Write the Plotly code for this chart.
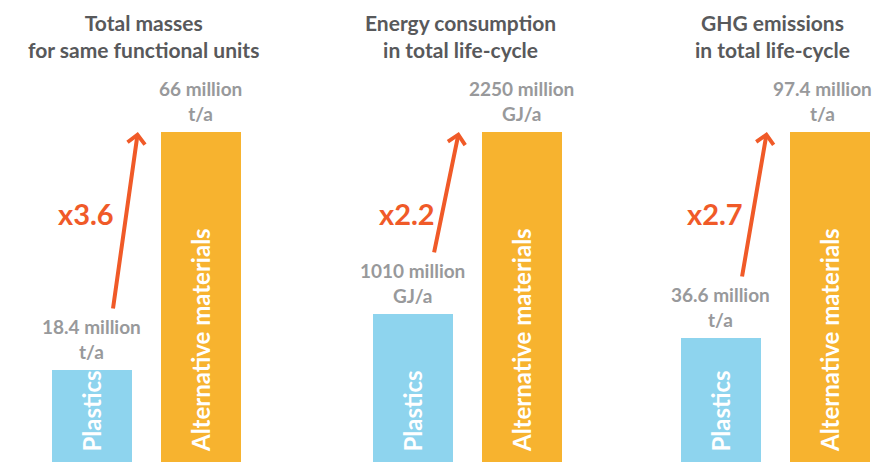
import plotly.graph_objects as go

# ---- data ----
title_line1 = ["Total masses", "Energy consumption", "GHG emissions"]
title_line2 = ["for same functional units", "in total life-cycle", "in total life-cycle"]
categories = ["Plastics", "Alternative materials"]
plastics = [18.4, 1010, 36.6]
alternatives = [66, 2250, 97.4]
units = ["t/a", "GJ/a", "t/a"]
factors = ["x3.6", "x2.2", "x2.7"]

# ---- style ----
OFF = 8                        # page body margin of the html page
W, H = 884 - OFF, 462 - OFF
BLUE = "#8ED4EE"
ORANGE = "#F7B32F"
RED = "#F05A28"
DARK = "#58595B"
GRAY = "#98999B"
FONT = "Lato"
centers = [91 - OFF, 412 - OFF, 720 - OFF]   # pixel centre of the plastics bar per panel
title_x = [143 - OFF, 460 - OFF, 772 - OFF]
unit_px = 109                                # pixel distance between the two bars
top_frac = 330 / H                           # alt bar height as fraction of plot height

fig = go.Figure()
annotations = []
for i in range(3):
    ax_id = "" if i == 0 else str(i + 1)
    xa, ya = "x" + ax_id, "y" + ax_id
    left = (centers[i] - unit_px / 2) / W
    right = (centers[i] + unit_px * 1.5) / W
    ymax = alternatives[i] / top_frac
    fig.add_trace(go.Bar(
        x=[0, 1], y=[plastics[i], alternatives[i]],
        marker=dict(color=[BLUE, ORANGE], line=dict(width=0)),
        width=80 / unit_px, xaxis=xa, yaxis=ya, showlegend=False,
        hoverinfo="skip",
    ))
    fig.update_layout({
        ("xaxis" + ax_id): dict(domain=[left, min(right, 1)], range=[-0.5, 1.5],
                                visible=False, fixedrange=True, anchor=ya),
        ("yaxis" + ax_id): dict(domain=[0, 1], range=[0, ymax], visible=False,
                                anchor=xa, fixedrange=True),
    })

    tx = title_x[i] / W
    annotations.append(dict(
        text="<b>" + title_line1[i] + "<br>" + title_line2[i] + "</b>",
        x=tx, y=1 - (36 - OFF) / H, xref="paper", yref="paper",
        xanchor="center", yanchor="middle", align="center", borderpad=0,
        showarrow=False, font=dict(family=FONT, size=21, color=DARK)))
    for j, v in enumerate([plastics[i], alternatives[i]]):
        edge = (i == 2 and j == 1)
        annotations.append(dict(
            text=f"<b>{v:g} million<br>{units[i]}</b>", x=j, y=v, xref=xa, yref=ya,
            showarrow=False, xanchor="center", yanchor="bottom", yshift=5,
            xshift=-7 if edge else 0,
            font=dict(family=FONT, size=19, color=GRAY), align="center"))
        annotations.append(dict(
            text="<b>" + categories[j] + "</b>", x=j, y=0, xref=xa, yref=ya,
            showarrow=False, textangle=-90, xanchor="center", yanchor="bottom", yshift=8,
            font=dict(family=FONT, size=24, color="white")))
    # growth arrow
    px_per_unit = (H * top_frac) / alternatives[i]
    tail_y = plastics[i] + 60 / px_per_unit
    annotations.append(dict(
        text="", x=0.43, y=alternatives[i], xref=xa, yref=ya,
        ax=0.2, ay=tail_y, axref=xa, ayref=ya,
        showarrow=True, arrowhead=4, arrowsize=0.85, arrowwidth=4, arrowcolor=RED))
    annotations.append(dict(
        text="<b>" + factors[i] + "</b>", x=-0.05, y=1 - (213 - OFF) / H,
        xref=xa, yref=ya + " domain", xanchor="center", yanchor="middle",
        showarrow=False, font=dict(family=FONT, size=29, color=RED)))

fig.update_layout(
    width=W, height=H, margin=dict(l=0, r=0, t=0, b=0),
    paper_bgcolor="white", plot_bgcolor="white",
    annotations=annotations, bargap=0,
)
fig.write_html("out.html")
